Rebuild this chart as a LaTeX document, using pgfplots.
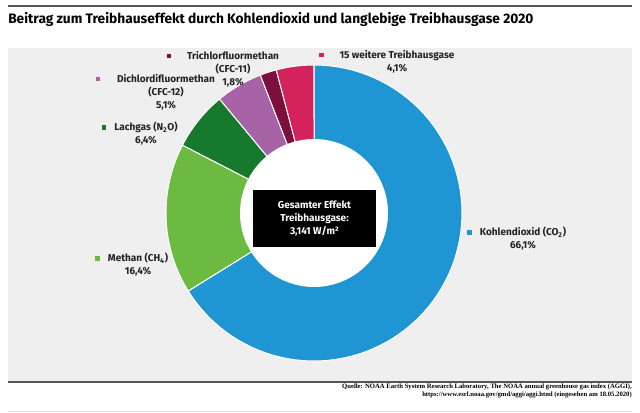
\documentclass[border=0pt]{standalone}
\usepackage{pgfplots}
\pgfplotsset{compat=1.18}
\usepackage{pgfplotstable}
\usepackage{fontspec}
\setmainfont{Fira Sans}
\newfontfamily\srcfont{Liberation Serif}

\definecolor{cco2}{HTML}{1F95D3}
\definecolor{cch4}{HTML}{6CBB40}
\definecolor{cn2o}{HTML}{17792E}
\definecolor{ccfc12}{HTML}{A863A6}
\definecolor{ccfc11}{HTML}{7D0F3C}
\definecolor{cother}{HTML}{D4235C}
\definecolor{bg}{HTML}{EFEFEF}
\definecolor{rulegray}{HTML}{555555}
\definecolor{txt}{HTML}{222222}

\newlength\PX
\setlength\PX{0.75pt}

% shares in percent, clockwise from 12 o'clock
\pgfplotstableread{
name  value
co2   66.1
ch4   16.4
n2o   6.4
cfc12 5.1
cfc11 1.8
other 4.1
}\gases

% colour, gap between key and text
\newcommand\key[2]{\llap{\textcolor{#1}{\raisebox{1.3\PX}{\rule{4.5\PX}{4.5\PX}}}\hspace{#2\PX}}}

\begin{document}
\begin{tikzpicture}
\begin{axis}[
    width=480pt, height=309pt,
    scale only axis,
    xmin=0, xmax=640, ymin=0, ymax=412,
    y dir=reverse,
    hide axis,
    clip=false,
  ]
  % frame
  \fill[bg] (axis cs:8,48) rectangle (axis cs:632,382);
  \draw[rulegray, line width=1.3\PX] (axis cs:8,6) -- (axis cs:632,6);
  \draw[rulegray, line width=1.3\PX] (axis cs:8,382) -- (axis cs:632,382);
  \draw[black!12, line width=1\PX] (axis cs:8,411) -- (axis cs:632,411);

  % donut slices
  \pgfmathsetmacro\total{0}
  \pgfplotsforeachungrouped \i in {0,...,5}{%
    \pgfplotstablegetelem{\i}{value}\of\gases
    \pgfmathsetmacro\total{\total+\pgfplotsretval}
  }
  \def\acc{0}
  \pgfplotsforeachungrouped \i in {0,...,5}{%
    \pgfplotstablegetelem{\i}{value}\of\gases
    \pgfmathsetmacro\a{\acc/\total*360}
    \pgfmathsetmacro\acc{\acc+\pgfplotsretval}
    \pgfmathsetmacro\b{\acc/\total*360}
    \pgfplotstablegetelem{\i}{name}\of\gases
    \edef\doslice{\noexpand\addplot[fill=c\pgfplotsretval, draw=white,
        line width=1\PX, line join=round, domain=\a:\b, samples=80]
      ({314+148*sin(x)},{213-148*cos(x)}) -- (axis cs:314,213) -- cycle;}
    \doslice
  }
  \addplot[fill=white, draw=none, domain=0:360, samples=120]
    ({314+74*sin(x)},{213-74*cos(x)}) -- cycle;

  % centre box
  \node[fill=black, text=white, font=\fontsize{7.5pt}{9.75pt}\selectfont\bfseries,
        minimum width=123\PX, minimum height=57\PX, align=center, inner sep=0pt]
    at (axis cs:314.5,218.5) {Gesamter Effekt\\Treibhausgase:\\3,141 W/m²};

  % labels
  \begin{scope}[every node/.style={font=\fontsize{7.5pt}{9.75pt}\selectfont\bfseries,
        text=txt, align=center, anchor=north, inner sep=0pt}]
    \node at (axis cs:233,51) {\key{ccfc11}{16}Trichlorfluormethan\\(CFC-11)\\1,8\%};
    \node at (axis cs:397,50) {\key{cother}{16}15 weitere Treibhausgase\\4,1\%};
    \node at (axis cs:166,74) {\key{ccfc12}{17}Dichlordifluormethan\\(CFC-12)\\5,1\%};
    \node at (axis cs:146,122) {\key{cn2o}{8}Lachgas (N\textsubscript{2}O)\\6,4\%};
    \node at (axis cs:138,253) {\key{cch4}{8}Methan (CH\textsubscript{4})\\16,4\%};
    \node at (axis cs:523,227) {\key{cco2}{8}Kohlendioxid (CO\textsubscript{2})\\66,1\%};
  \end{scope}

  % title and source
  \node[anchor=base west, inner sep=0pt, font=\fontsize{10.3pt}{12pt}\selectfont\bfseries]
    at (axis cs:8,23) {Beitrag zum Treibhauseffekt durch Kohlendioxid und langlebige Treibhausgase 2020};
  \node[anchor=north east, inner sep=0pt, align=right,
        font=\fontsize{5pt}{5.4pt}\selectfont\srcfont\bfseries]
    at (axis cs:632,384) {Quelle: NOAA Earth System Research Laboratory, The NOAA annual greenhouse gas index (AGGI),\\
      https://www.esrl.noaa.gov/gmd/aggi/aggi.html (eingesehen am 18.05.2020)};
\end{axis}
\pgfresetboundingbox
\path (current axis.south west) rectangle (current axis.north east);
\end{tikzpicture}
\end{document}
